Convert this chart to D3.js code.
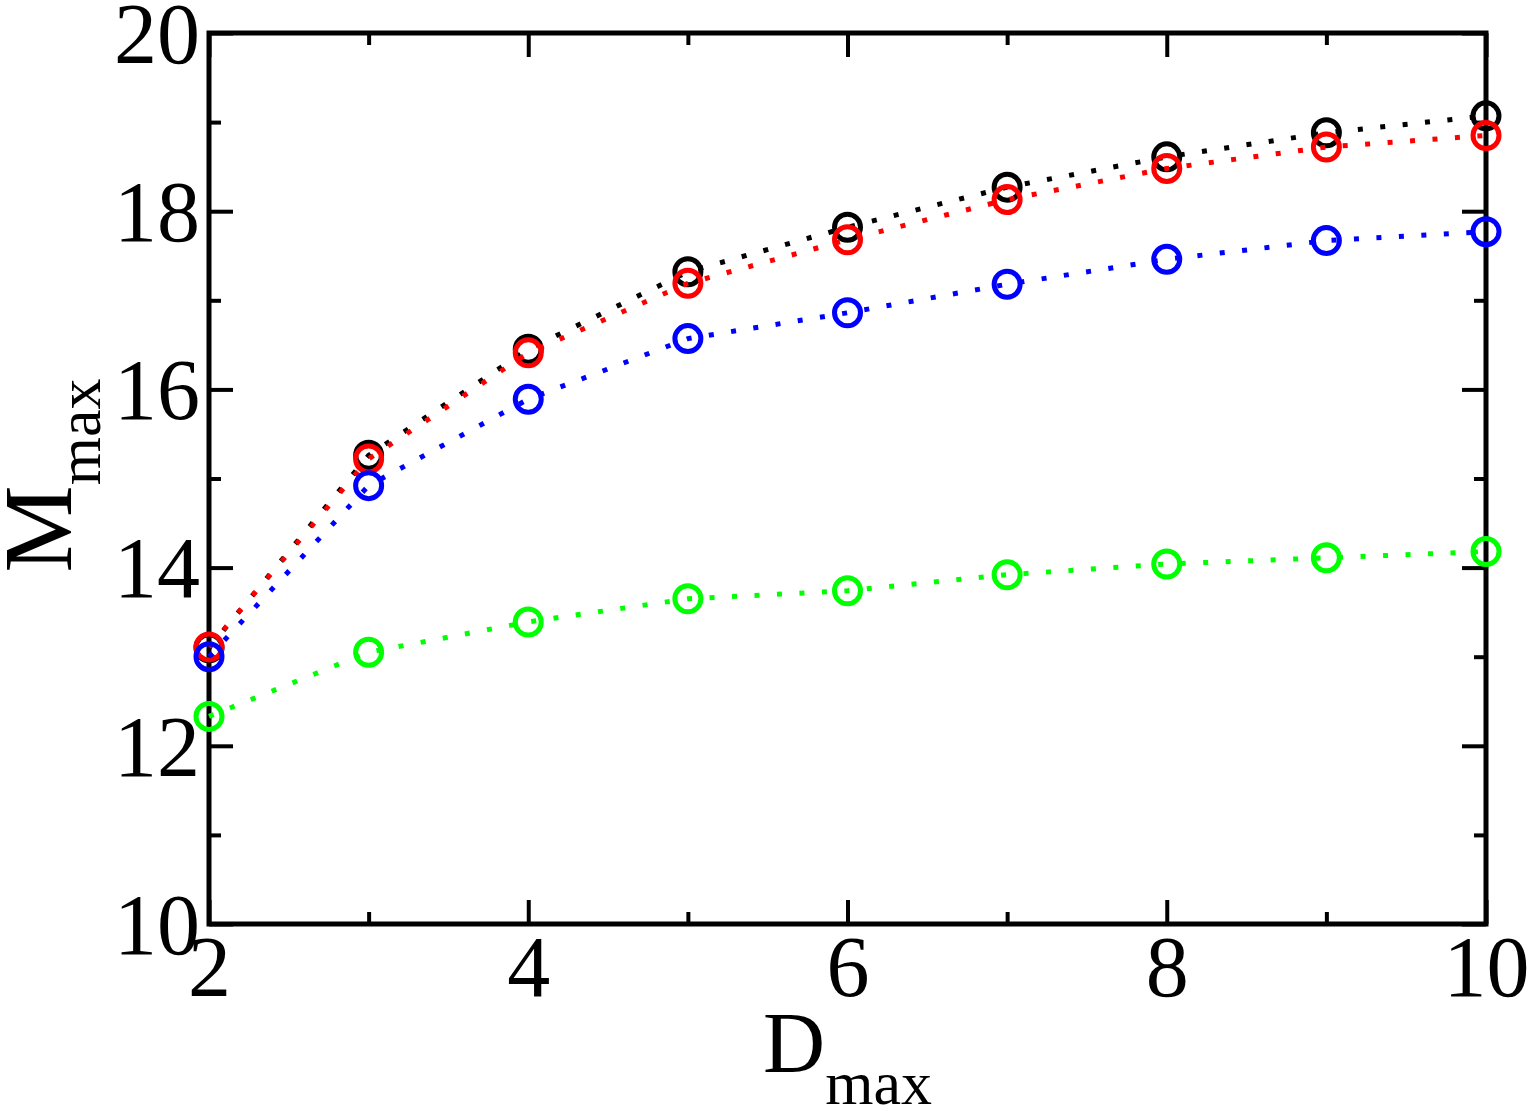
<!DOCTYPE html>
<html>
   <head>
      <script src="https://d3js.org/d3.v7.min.js"></script>
      <style>
         body { margin: 0; background: #fff; }
         text { font-family: "Liberation Serif", "Times New Roman", serif; fill: #000; }
      </style>
   </head>
   <body>
      <svg id="chart" width="1534" height="1111"></svg>
      <script>
         // D_max values and M_max for four series (black, red, blue, green)
         var dmax = [2, 3, 4, 5, 6, 7, 8, 9, 10];
         var mBlack = [13.10, 15.26, 16.45, 17.32, 17.82, 18.27, 18.61, 18.88, 19.07];
         var mRed = [13.11, 15.22, 16.41, 17.19, 17.68, 18.13, 18.48, 18.72, 18.85];
         var mBlue = [13.00, 14.92, 15.89, 16.57, 16.86, 17.18, 17.46, 17.67, 17.77];
         var mGreen = [12.33, 13.05, 13.39, 13.65, 13.74, 13.92, 14.04, 14.11, 14.18];
         var colors = ["#000000", "#ff0000", "#0000ff", "#00ff00"];
         var xMajor = [2, 4, 6, 8, 10], xMinor = [3, 5, 7, 9];
         var yMajor = [10, 12, 14, 16, 18, 20], yMinor = [11, 13, 15, 17, 19];

         var svg = d3.select("#chart");
         var pLeft = 209, pRight = 1486, pTop = 33, pBottom = 924;
         var x = d3.scaleLinear().domain([2, 10]).range([pLeft, pRight]);
         var y = d3.scaleLinear().domain([10, 20]).range([pBottom, pTop]);

         // ticks, inward on all four sides
         function styleAxis(g) {
            g.select(".domain").remove();
            g.selectAll(".tick line").attr("stroke", "#000").attr("stroke-width", 4);
         }
         svg.append("g").attr("transform", "translate(0," + pBottom + ")")
            .call(d3.axisBottom(x).tickValues(xMajor).tickSize(-24).tickFormat(d3.format("d")))
            .call(styleAxis)
            .selectAll("text").attr("y", 11).attr("dy", "0.71em").style("font-size", "86px");
         svg.append("g").attr("transform", "translate(0," + pBottom + ")")
            .call(d3.axisBottom(x).tickValues(xMinor).tickSize(-12).tickFormat(""))
            .call(styleAxis);
         svg.append("g").attr("transform", "translate(0," + pTop + ")")
            .call(d3.axisTop(x).tickValues(xMajor).tickSize(-24).tickFormat(""))
            .call(styleAxis);
         svg.append("g").attr("transform", "translate(0," + pTop + ")")
            .call(d3.axisTop(x).tickValues(xMinor).tickSize(-12).tickFormat(""))
            .call(styleAxis);
         svg.append("g").attr("transform", "translate(" + pLeft + ",0)")
            .call(d3.axisLeft(y).tickValues(yMajor).tickSize(-24).tickPadding(9).tickFormat(d3.format("d")))
            .call(styleAxis)
            .selectAll("text").attr("dy", "0.34em").style("font-size", "86px");
         svg.append("g").attr("transform", "translate(" + pLeft + ",0)")
            .call(d3.axisLeft(y).tickValues(yMinor).tickSize(-12).tickFormat(""))
            .call(styleAxis);
         svg.append("g").attr("transform", "translate(" + pRight + ",0)")
            .call(d3.axisRight(y).tickValues(yMajor).tickSize(-24).tickFormat(""))
            .call(styleAxis);
         svg.append("g").attr("transform", "translate(" + pRight + ",0)")
            .call(d3.axisRight(y).tickValues(yMinor).tickSize(-12).tickFormat(""))
            .call(styleAxis);

         // frame
         svg.append("rect")
            .attr("x", pLeft).attr("y", pTop)
            .attr("width", pRight - pLeft).attr("height", pBottom - pTop)
            .attr("fill", "none").attr("stroke", "#000").attr("stroke-width", 5);

         var series = [mBlack, mRed, mBlue, mGreen];
         var line = d3.line().x(function (d) { return x(d[0]); }).y(function (d) { return y(d[1]); });
         series.forEach(function (vals, k) {
            var pts = dmax.map(function (d, i) { return [d, vals[i]]; });
            svg.append("path")
               .attr("d", line(pts))
               .attr("fill", "none")
               .attr("stroke", colors[k])
               .attr("stroke-width", 5)
               .attr("stroke-dasharray", "5 17.5");
            svg.append("g").selectAll("circle")
               .data(pts).enter().append("circle")
               .attr("cx", function (d) { return x(d[0]); })
               .attr("cy", function (d) { return y(d[1]); })
               .attr("r", 13)
               .attr("fill", "none")
               .attr("stroke", colors[k])
               .attr("stroke-width", 5);
         });

         // axis titles
         var xt = svg.append("text")
            .attr("x", (pLeft + pRight) / 2).attr("y", 1072)
            .attr("text-anchor", "middle");
         xt.append("tspan").style("font-size", "86px").text("D");
         xt.append("tspan").attr("dy", 32).style("font-size", "62px").text("max");

         var yt = svg.append("text")
            .attr("transform", "translate(71," + ((pTop + pBottom) / 2 - 3) + ") rotate(-90)")
            .attr("text-anchor", "middle");
         yt.append("tspan").style("font-size", "98px").text("M");
         yt.append("tspan").attr("dy", 29).style("font-size", "62px").text("max");
      </script>
   </body>
</html>
